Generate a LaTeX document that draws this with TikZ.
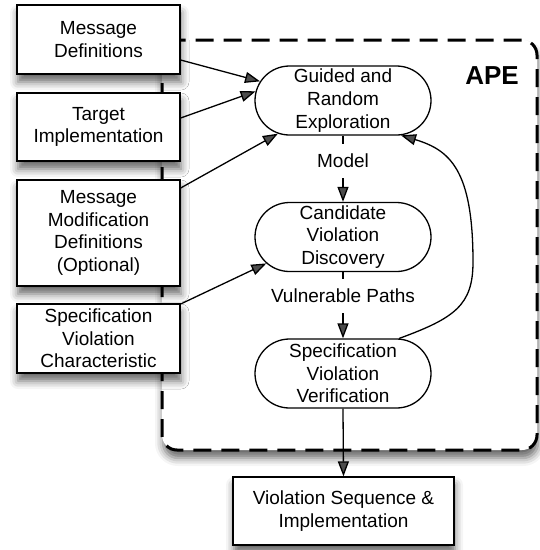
\documentclass[tikz,border=0pt]{standalone}
\usepackage{fontspec}
\setmainfont{Liberation Sans}
\usetikzlibrary{shapes.misc,arrows.meta,shadows.blur}
\begin{document}
\begin{tikzpicture}[x=1pt,y=-1pt,
  txt/.style={font={\fontsize{19}{22.7}\selectfont}},
  shd/.style={blur shadow={shadow xshift=1pt,shadow yshift=-8pt,shadow blur radius=8pt,shadow opacity=60}},
  inbox/.style={txt,draw,line width=1.3pt,fill=white,minimum width=163pt,minimum height=69pt,align=center,inner sep=0pt,shd},
  stadium/.style={txt,rounded rectangle,draw,line width=1.3pt,fill=white,minimum width=176pt,minimum height=69pt,align=center,inner sep=0pt},
  lab/.style={txt,fill=white,inner xsep=2pt,inner ysep=10pt},
  arr/.style={-{Triangle[length=15pt,width=11pt]},line width=1.3pt},
  container/.style={draw,line width=3pt,dash pattern=on 18pt off 10pt,rounded corners=15pt,fill=white,shd}]
\useasboundingbox (0,0) rectangle (540,550);
% container
\draw[container] (162,40) rectangle (537,450);
\node[font={\fontsize{26}{30}\selectfont\bfseries}] (ape) at (492,76) {APE};
% process nodes
\node[stadium] (gre) at (343,100.5) {Guided and\\Random\\Exploration};
\node[stadium] (cvd) at (343,237) {Candidate\\Violation\\Discovery};
\node[stadium] (svv) at (343,373.5) {Specification\\Violation\\Verification};
% input boxes
\node[inbox] (md) at (98.5,39.5) {Message\\Definitions};
\node[inbox,minimum height=68pt] (ti) at (98.5,127) {Target\\Implementation};
\node[inbox,minimum height=106pt] (mmd) at (98.5,233) {Message\\Modification\\Definitions\\(Optional)};
\node[inbox] (svc) at (98.5,338.5) {Specification\\Violation\\Characteristic};
\node[inbox,minimum width=221pt,minimum height=68pt] (vsi) at (343.5,511) {Violation Sequence \&\\Implementation};
% connectors
\draw[arr] ([yshift=-20.5pt]md.east) -- (gre.167);
\draw[arr] ([yshift=9pt]ti.east) -- (gre.174);
\draw[arr] ([yshift=45pt]mmd.east) -- (gre.207);
\draw[arr] ([yshift=34.5pt]svc.east) -- (cvd.199);
\draw[arr] (gre.south) -- (cvd.north);
\node[lab] (model) at (343,161) {Model};
\draw[arr] (cvd.south) -- (svv.north);
\node[lab] (vp) at (343,296) {Vulnerable Paths};
\draw[arr] (svv.south) -- (vsi.north);
\draw[arr] (svv.32) .. controls (455,318) and (473,305) .. (473,262)
  .. controls (473,170) and (450,150) .. (gre.-31);
\end{tikzpicture}
\end{document}
